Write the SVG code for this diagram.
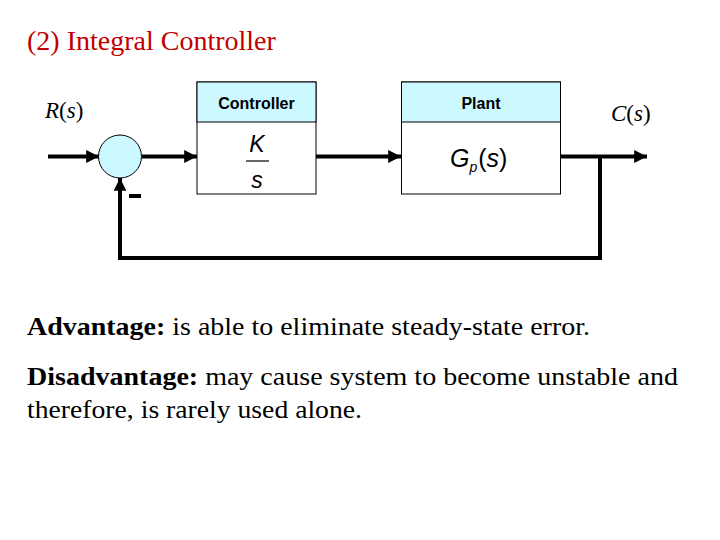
<svg xmlns="http://www.w3.org/2000/svg" width="720" height="540" viewBox="0 0 720 540">
<defs>
<style>
.box{fill:#fff;stroke:#000;stroke-width:1}
.hdr{fill:#ccf8ff;stroke:#000;stroke-width:1}
.hl{font-family:"Liberation Sans",Arial,sans-serif;font-weight:bold;font-size:16px;text-anchor:middle}
.math{font-family:"Liberation Sans",Arial,sans-serif;font-style:italic;font-size:23px;text-anchor:middle}
.sig{font-family:"Liberation Serif","Times New Roman",serif;font-size:23px}
.body{font-family:"Liberation Serif","Times New Roman",serif;font-size:26px;fill:#000}
.wire{fill:none;stroke:#000;stroke-width:4}
</style>
<marker id="arr" viewBox="0 0 10 10" refX="10" refY="5" markerWidth="3.2" markerHeight="3.2" orient="auto" markerUnits="strokeWidth">
<path d="M0,0 L10,5 L0,10 z" fill="#000"/>
</marker>
</defs>
<rect width="720" height="540" fill="#fff"/>
<text x="27" y="50" font-family="Liberation Serif,'Times New Roman',serif" font-size="28" fill="#c00000">(2) Integral Controller</text>

<g id="connectors">
<line class="wire" x1="48" y1="156.5" x2="99" y2="156.5" marker-end="url(#arr)"/>
<line class="wire" x1="142" y1="156.5" x2="197" y2="156.5" marker-end="url(#arr)"/>
<line class="wire" x1="316" y1="156.5" x2="401" y2="156.5" marker-end="url(#arr)"/>
<line class="wire" x1="561" y1="156.5" x2="647" y2="156.5" marker-end="url(#arr)"/>
<polyline class="wire" points="600,156.5 600,258 120,258 120,178" marker-end="url(#arr)"/>
<rect x="129" y="194" width="12" height="4" fill="#000"/>
</g>

<g id="sum">
<circle cx="120" cy="156.5" r="21.5" fill="#ccf8ff" stroke="#000" stroke-width="1"/>
</g>

<g id="controller">
<rect class="box" x="197" y="82" width="119" height="112"/>
<rect class="hdr" x="197" y="82" width="119" height="40"/>
<text class="hl" x="256.5" y="109">Controller</text>
<text class="math" x="257" y="152">K</text>
<line x1="246" y1="161" x2="269" y2="161" stroke="#000" stroke-width="1.2"/>
<text class="math" x="257" y="188">s</text>
</g>

<g id="plant">
<rect class="box" x="401.5" y="82" width="159" height="112"/>
<rect class="hdr" x="401.5" y="82" width="159" height="40"/>
<text class="hl" x="481" y="109">Plant</text>
<text font-family="Liberation Sans,Arial,sans-serif" font-style="italic" font-size="25" x="450" y="167">G<tspan font-size="14" dy="5">p</tspan><tspan dy="-5" dx="1" font-style="normal">(</tspan>s<tspan font-style="normal">)</tspan></text>
</g>

<text class="sig" x="45" y="118"><tspan font-style="italic">R</tspan>(<tspan font-style="italic">s</tspan>)</text>
<text class="sig" x="611" y="121"><tspan font-style="italic">C</tspan>(<tspan font-style="italic">s</tspan>)</text>

<text class="body" x="27" y="335" textLength="563" lengthAdjust="spacingAndGlyphs"><tspan font-weight="bold">Advantage:</tspan> is able to eliminate steady-state error.</text>
<text class="body" x="27" y="385" textLength="651" lengthAdjust="spacingAndGlyphs"><tspan font-weight="bold">Disadvantage:</tspan> may cause system to become unstable and</text>
<text class="body" x="27" y="418" textLength="335" lengthAdjust="spacingAndGlyphs">therefore, is rarely used alone.</text>
</svg>
